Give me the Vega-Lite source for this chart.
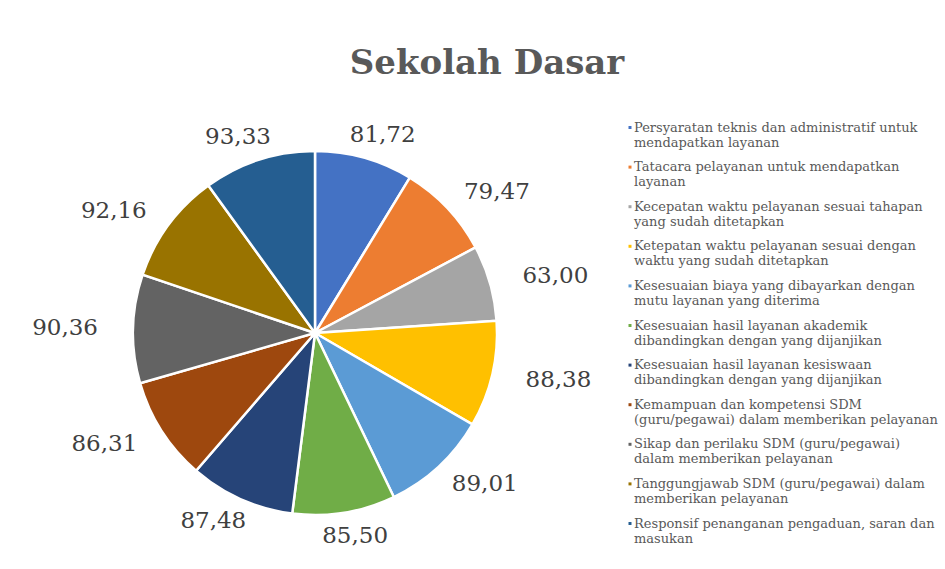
{
  "$schema": "https://vega.github.io/schema/vega-lite/v6.json",
  "autosize": "none",
  "width": 630,
  "height": 466,
  "padding": {"left": 0, "top": 100, "right": 315, "bottom": 3},
  "background": "white",
  "title": {
    "text": "Sekolah Dasar",
    "font": "DejaVu Serif",
    "fontSize": 34,
    "fontWeight": "bold",
    "color": "#595959",
    "anchor": "middle",
    "dx": 172,
    "offset": 19
  },
  "data": {
    "values": [
      {"idx": 1, "kategori": "Persyaratan teknis dan administratif untuk|mendapatkan layanan", "nilai": 81.72},
      {"idx": 2, "kategori": "Tatacara pelayanan untuk mendapatkan|layanan", "nilai": 79.47},
      {"idx": 3, "kategori": "Kecepatan waktu pelayanan sesuai tahapan|yang sudah ditetapkan", "nilai": 63.00},
      {"idx": 4, "kategori": "Ketepatan waktu pelayanan sesuai dengan|waktu yang sudah ditetapkan", "nilai": 88.38},
      {"idx": 5, "kategori": "Kesesuaian biaya yang dibayarkan dengan|mutu layanan yang diterima", "nilai": 89.01},
      {"idx": 6, "kategori": "Kesesuaian hasil layanan akademik|dibandingkan dengan yang dijanjikan", "nilai": 85.50},
      {"idx": 7, "kategori": "Kesesuaian hasil layanan kesiswaan|dibandingkan dengan yang dijanjikan", "nilai": 87.48},
      {"idx": 8, "kategori": "Kemampuan dan kompetensi SDM|(guru/pegawai) dalam memberikan pelayanan", "nilai": 86.31},
      {"idx": 9, "kategori": "Sikap dan perilaku SDM (guru/pegawai)|dalam memberikan pelayanan", "nilai": 90.36},
      {"idx": 10, "kategori": "Tanggungjawab  SDM  (guru/pegawai)  dalam|memberikan pelayanan", "nilai": 92.16},
      {"idx": 11, "kategori": "Responsif penanganan pengaduan, saran dan|masukan", "nilai": 93.33}
    ]
  },
  "encoding": {
    "theta": {"field": "nilai", "type": "quantitative", "stack": true},
    "order": {"field": "idx", "type": "quantitative"},
    "color": {
      "field": "kategori",
      "type": "nominal",
      "sort": null,
      "scale": {"range": ["#4472C4", "#ED7D31", "#A5A5A5", "#FFC000", "#5B9BD5", "#70AD47", "#264478", "#9E480E", "#636363", "#997300", "#255E91"]},
      "legend": {
        "title": null,
        "orient": "none",
        "legendX": 620,
        "legendY": 15,
        "labelExpr": "split(datum.label, '|')",
        "labelFont": "DejaVu Serif",
        "labelFontSize": 13,
        "labelColor": "#595959",
        "labelLimit": 330,
        "labelBaseline": "top",
        "labelOffset": 1,
        "symbolType": "M0.5,1.125H1.25V1.875H0.5Z",
        "symbolSize": 64,
        "symbolStrokeWidth": 0,
        "rowPadding": 4.6
      }
    }
  },
  "layer": [
    {"mark": {"type": "arc", "outerRadius": 182, "stroke": "white", "strokeWidth": 2.5}},
    {
      "mark": {
        "type": "text",
        "radius": 206,
        "dx": {"expr": "44 * sin(scale('theta', (datum.nilai_start + datum.nilai_end) / 2))"},
        "font": "DejaVu Serif",
        "fontSize": 23,
        "color": "#404040"
      },
      "encoding": {
        "text": {"field": "nilai", "type": "quantitative", "format": ".2f"},
        "color": {"value": "#404040"}
      }
    }
  ],
  "config": {
    "view": {"stroke": null},
    "locale": {"number": {"decimal": ",", "thousands": ".", "grouping": [3], "currency": ["", ""]}}
  }
}
